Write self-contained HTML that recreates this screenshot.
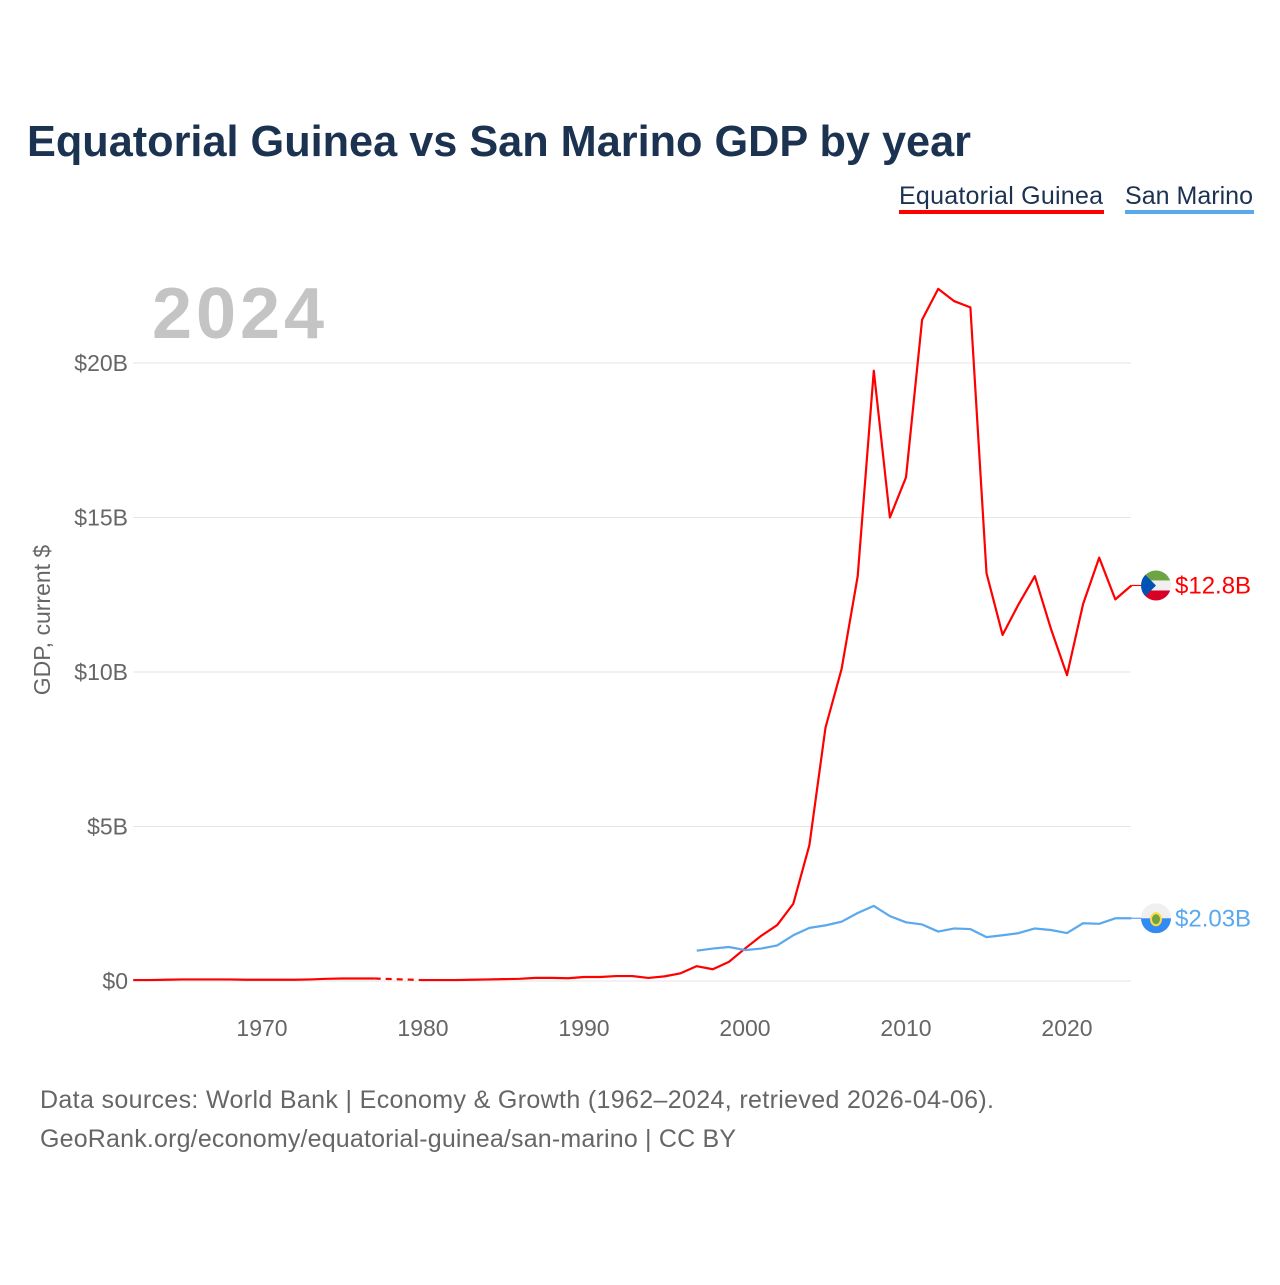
<!DOCTYPE html>
<html><head><meta charset="utf-8"><style>
body{margin:0;background:#fff;font-family:"Liberation Sans",sans-serif}
#wrap{position:relative;width:1280px;height:1280px}
</style></head><body>
<div id="wrap">
<svg id="chart" width="1280" height="1280">
<text x="27" y="156" font-size="44" font-weight="bold" fill="#1b3250" textLength="944" lengthAdjust="spacingAndGlyphs">Equatorial Guinea vs San Marino GDP by year</text>
<g>
<text x="899" y="204" font-size="25" fill="#1b3250" textLength="204">Equatorial Guinea</text>
<rect x="899" y="210" width="205" height="4" fill="#ff0000"/></g>
<g>
<text x="1125" y="204" font-size="25" fill="#1b3250" textLength="128">San Marino</text>
<rect x="1125" y="210" width="129" height="4" fill="#5aa8ee"/></g>
<text x="152" y="338" font-size="72" font-weight="bold" fill="#c4c4c4" textLength="172">2024</text>
<text transform="translate(50,620) rotate(-90)" text-anchor="middle" font-size="23" fill="#666">GDP, current $</text>
<g id="grid"></g><g id="xt"></g><g id="lines"></g>
<text x="40" y="1108" font-size="25" fill="#666" textLength="954">Data sources: World Bank | Economy &amp; Growth (1962–2024, retrieved 2026-04-06).</text>
<text x="40" y="1147" font-size="25" fill="#666" textLength="696">GeoRank.org/economy/equatorial-guinea/san-marino | CC BY</text>
</svg></div>
<script>
const years=[];for(let y=1962;y<=2024;y++)years.push(y);
const egValues=[0.03,0.03,0.04,0.05,0.05,0.05,0.05,0.04,0.04,0.04,0.04,0.05,0.07,0.08,0.08,0.08,null,null,0.03,0.03,0.03,0.04,0.05,0.06,0.07,0.1,0.1,0.09,0.13,0.13,0.16,0.16,0.1,0.15,0.25,0.48,0.38,0.62,1.05,1.46,1.81,2.5,4.4,8.2,10.1,13.1,19.75,15.0,16.3,21.4,22.4,22.0,21.8,13.2,11.2,12.2,13.1,11.4,9.9,12.2,13.7,12.35,12.8];
const smYears=[1997,1998,1999,2000,2001,2002,2003,2004,2005,2006,2007,2008,2009,2010,2011,2012,2013,2014,2015,2016,2017,2018,2019,2020,2021,2022,2023,2024];
const smValues=[0.98,1.05,1.1,1.0,1.05,1.15,1.48,1.72,1.8,1.92,2.2,2.43,2.1,1.9,1.83,1.6,1.7,1.68,1.42,1.48,1.55,1.7,1.65,1.55,1.87,1.85,2.03,2.03];
const yTicks=[0,5,10,15,20];const yTickLabels=["$0","$5B","$10B","$15B","$20B"];
const xTicks=[1970,1980,1990,2000,2010,2020];
const NS="http://www.w3.org/2000/svg";
const X=y=>133.2+(y-1962)*16.1, Y=v=>981-v*30.9;
function mk(t,a,p){const e=document.createElementNS(NS,t);for(const k in a)e.setAttribute(k,a[k]);p.appendChild(e);return e;}
const g=document.getElementById('grid');
yTicks.forEach((t,i)=>{const l=mk('line',{x1:133,x2:1131,y1:Y(t),y2:Y(t),stroke:'#e6e6e6','stroke-width':1},g);


const tx=mk('text',{x:128,y:Y(t)+8,'text-anchor':'end','font-size':23,fill:'#666'},g);tx.textContent=yTickLabels[i];

});
const xt=document.getElementById('xt');
xTicks.forEach(t=>{const tx=mk('text',{x:X(t),y:1036,'text-anchor':'middle','font-size':23,fill:'#666'},xt);tx.textContent=t;

});
const L=document.getElementById('lines');
let segs=[],cur=[];years.forEach((y,i)=>{const v=egValues[i];if(v==null){if(cur.length)segs.push(cur);cur=[];}else cur.push([X(y),Y(v)]);});if(cur.length)segs.push(cur);
segs.forEach(s=>{const p=mk('polyline',{points:s.map(q=>q.join(',')).join(' '),fill:'none',stroke:'#ff0000','stroke-width':2.2,'stroke-linejoin':'round'},L);

});
for(let k=0;k<segs.length-1;k++){const a=segs[k][segs[k].length-1],b=segs[k+1][0];
const d=mk('line',{x1:a[0],y1:a[1],x2:b[0],y2:b[1],stroke:'#ff0000','stroke-width':2.2,'stroke-dasharray':'6,5'},L);

}
const sp=mk('polyline',{points:smYears.map((y,i)=>X(y)+','+Y(smValues[i])).join(' '),fill:'none',stroke:'#5aa8ee','stroke-width':2.2,'stroke-linejoin':'round'},L);


function endMark(v,col,label,name,flag){const y=Y(v);
mk('line',{x1:X(2024),x2:1142,y1:y,y2:y,stroke:col,'stroke-width':1.2},L);
const gg=mk('g',{},L);

flag(gg,1156,y);
const t=mk('text',{x:1175,y:y+8,'font-size':24,fill:col},gg);t.textContent=label;}
endMark(egValues[egValues.length-1],'#ff0000','$12.8B','equatorial-guinea',(p,cx,cy)=>{
const cp=mk('clipPath',{id:'c1'},p);mk('circle',{cx,cy,r:15},cp);
const q=mk('g',{'clip-path':'url(#c1)'},p);
mk('rect',{x:cx-15,y:cy-15,width:30,height:10,fill:'#6da544'},q);
mk('rect',{x:cx-15,y:cy-5,width:30,height:10,fill:'#f0f0f0'},q);
mk('rect',{x:cx-15,y:cy+5,width:30,height:10,fill:'#d80027'},q);
mk('polygon',{points:`${cx-15},${cy-15} ${cx},${cy} ${cx-15},${cy+15}`,fill:'#0052b4'},q);});
endMark(smValues[smValues.length-1],'#5aa8ee','$2.03B','san-marino',(p,cx,cy)=>{
const cp=mk('clipPath',{id:'c2'},p);mk('circle',{cx,cy,r:15},cp);
const q=mk('g',{'clip-path':'url(#c2)'},p);
mk('rect',{x:cx-15,y:cy-15,width:30,height:15,fill:'#f0f0f0'},q);
mk('rect',{x:cx-15,y:cy,width:30,height:15,fill:'#338af3'},q);
mk('ellipse',{cx,cy:cy+1,rx:5,ry:6,fill:'#6da544',stroke:'#ffda44','stroke-width':2},q);});
</script></body></html>
